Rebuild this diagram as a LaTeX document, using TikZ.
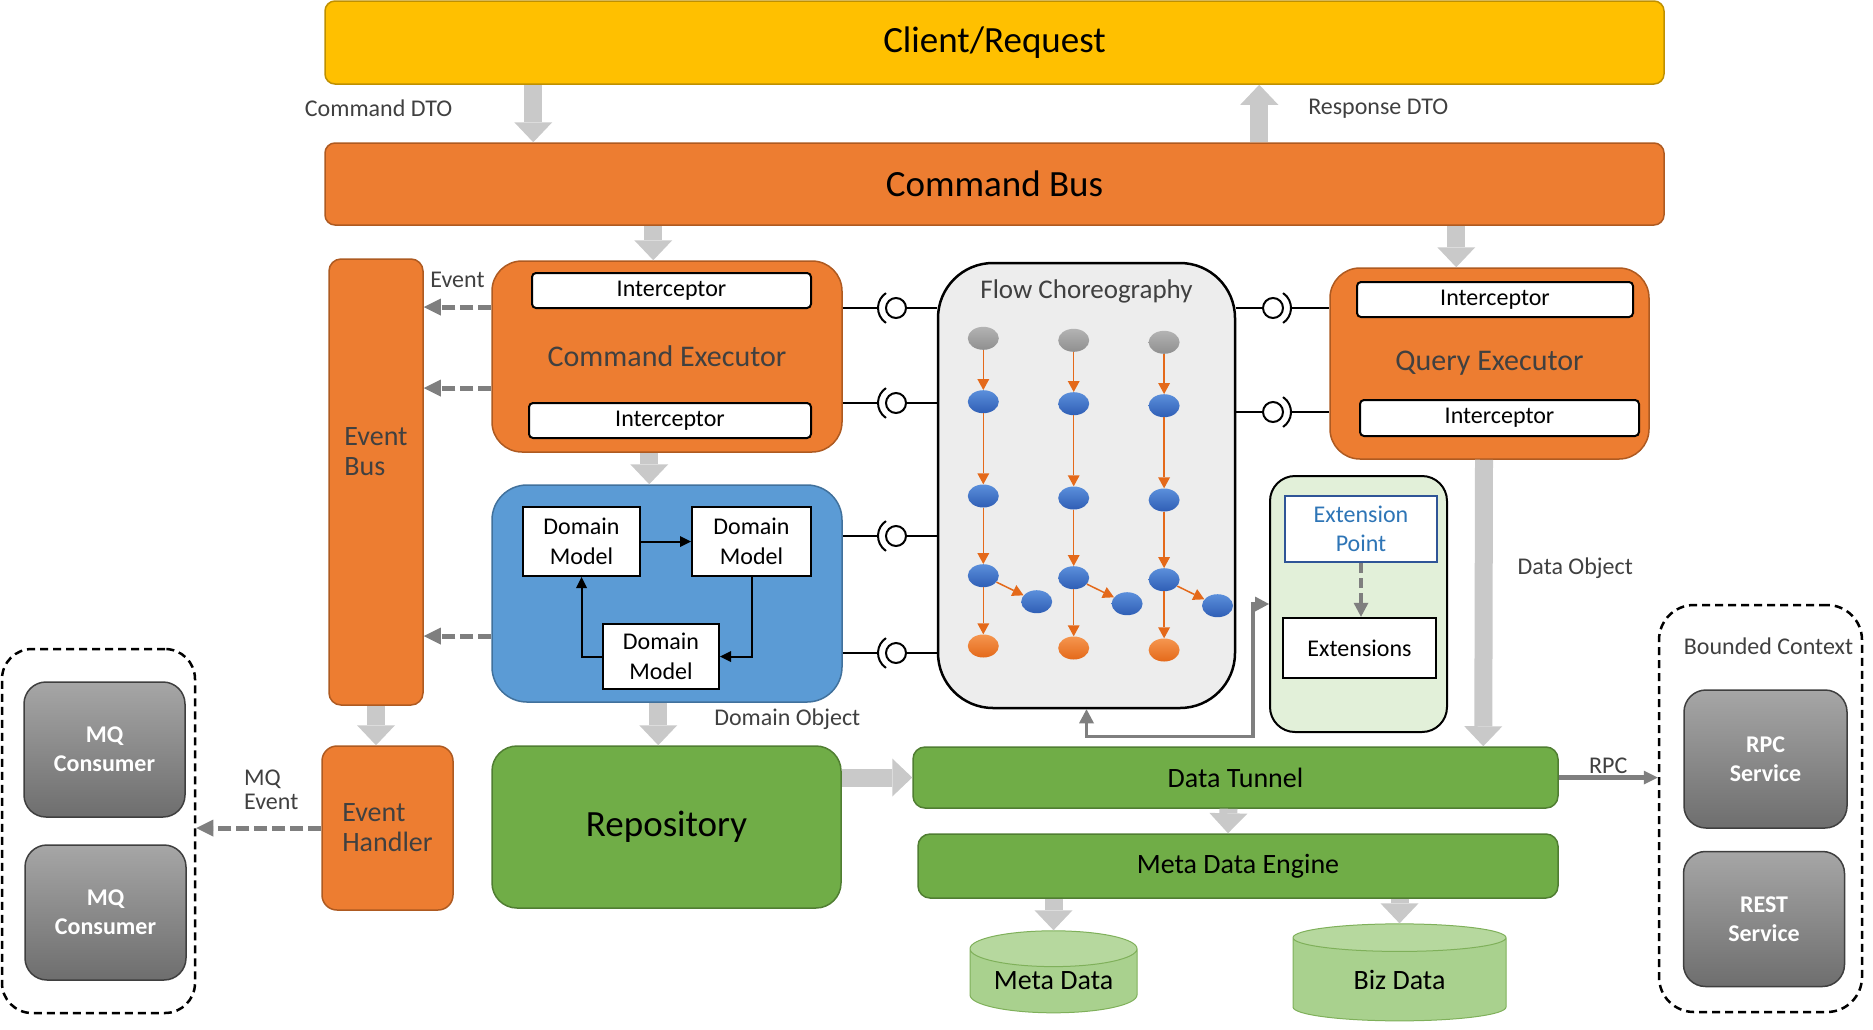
\documentclass[tikz,border=0pt]{standalone}
\usepackage{fontspec}
\setmainfont{Carlito}
\usetikzlibrary{arrows.meta, positioning, shapes.geometric}

\definecolor{clientfill}{HTML}{FFC000}
\definecolor{clientline}{HTML}{BF9000}
\definecolor{orangefill}{HTML}{ED7D31}
\definecolor{orangeline}{HTML}{AE5A21}
\definecolor{bluefill}{HTML}{5B9BD5}
\definecolor{blueline}{HTML}{41719C}
\definecolor{greenfill}{HTML}{70AD47}
\definecolor{greenline}{HTML}{507E32}
\definecolor{lightgreen}{HTML}{E2F0D9}
\definecolor{dbfill}{HTML}{A9D18E}
\definecolor{dbtop}{HTML}{B6D89E}
\definecolor{dbline}{HTML}{7FB05A}
\definecolor{flowfill}{HTML}{EDEDED}
\definecolor{txtgray}{HTML}{404040}
\definecolor{blockgray}{HTML}{C9C9C9}
\definecolor{dashgray}{HTML}{7F7F7F}
\definecolor{extblue}{HTML}{2E75B6}
\definecolor{extline}{HTML}{2F5597}
\definecolor{graytop}{HTML}{A6A6A6}
\definecolor{graybottom}{HTML}{6E6E6E}
\definecolor{darkline}{HTML}{3F3F3F}
\definecolor{dotgraytop}{HTML}{B3B3B3}
\definecolor{dotgraybottom}{HTML}{8F8F8F}
\definecolor{dotbluetop}{HTML}{5B8FDB}
\definecolor{dotbluebottom}{HTML}{2F5EB5}
\definecolor{dotorangetop}{HTML}{F5964F}
\definecolor{dotorangebottom}{HTML}{E4691A}

\newcommand{\fsz}[2]{\fontsize{#1}{#2}\selectfont}

\begin{document}
\begin{tikzpicture}[x=1pt, y=-1pt,
    orangebox/.style={draw=orangeline, fill=orangefill, line width=1.5pt},
    greenbox/.style={draw=greenline, fill=greenfill, line width=1.5pt},
    outerbox/.style={draw, line width=2.5pt, dash pattern=on 8pt off 5pt, rounded corners=30pt},
    interceptor/.style={draw, fill=white, line width=2pt, rounded corners=4pt, minimum height=35pt, inner sep=0pt, font=\fsz{24}{29}},
    domainmodel/.style={draw, fill=white, line width=2pt, align=center, inner sep=0pt, font=\fsz{24}{30}},
    graybox/.style={draw=darkline, top color=graytop, bottom color=graybottom, line width=1.5pt, rounded corners=22pt, text=white, align=center, font=\bfseries\fsz{24}{29}},
    database/.style={cylinder, shape border rotate=90, aspect=0.3, draw=dbline, line width=1pt, cylinder uses custom fill, cylinder body fill=dbfill, cylinder end fill=dbtop, inner sep=0pt, font=\fsz{28}{34}},
    flowdot/.style={ellipse, minimum width=31pt, minimum height=23pt, inner sep=0pt},
    lollipop/.style={circle, draw, fill=white, line width=2pt, minimum size=20pt, inner sep=0pt},
    lbl/.style={text=txtgray, font=\fsz{24}{24}, inner sep=0pt},
    blockarrow/.style={draw=blockgray, line width=18pt, arrows={-Triangle[length=20pt, width=38pt, line width=0pt]}},
    dasharrow/.style={draw=dashgray, line width=5pt, dash pattern=on 13pt off 5pt, arrows={-Triangle[length=17pt, width=17pt, line width=0pt]}},
    flowarrow/.style={draw=dotorangebottom, line width=1.5pt, arrows={-Triangle[length=11pt, width=12pt, line width=0pt]}},
    modelarrow/.style={draw=black, line width=2pt, arrows={-Triangle[length=11pt, width=11pt, line width=0pt]}},
    rpcarrow/.style={draw=dashgray, line width=4.5pt, arrows={-Triangle[length=14pt, width=14pt, line width=0pt]}},
    grayconn/.style={draw=dashgray, line width=3.5pt}]

    \useasboundingbox (0,0) rectangle (1873,1029);

    % Nodes
    \node[draw=clientline, fill=clientfill, line width=1.5pt, rounded corners=10pt, minimum width=1339pt, minimum height=83pt, font=\fsz{37}{44}] (client) at (994.5,42.5) {Client/Request};
    \node[orangebox, rounded corners=10pt, minimum width=1339pt, minimum height=82pt, font=\fsz{37}{44}] (command bus) at (994.5,184) {Command Bus};

    \node[orangebox, rounded corners=12pt, minimum width=94pt, minimum height=446pt,
          label={[text=txtgray, align=left, font=\fsz{28}{30}, yshift=30pt]center:{Event\\Bus}}] (event bus) at (376,482) {};
    \node[orangebox, rounded corners=15pt, minimum width=131pt, minimum height=164pt, text=txtgray, align=left, font=\fsz{28}{30}] (event handler) at (387.5,828) {Event\\Handler};

    \node[orangebox, rounded corners=30pt, minimum width=350pt, minimum height=191pt, text=txtgray, font=\fsz{30}{36}] (cmd exec) at (667,356.5) {Command Executor};
    \node[interceptor, minimum width=279pt] (cmd icpt top) at (671.5,290.5) {Interceptor};
    \node[interceptor, minimum width=282pt] (cmd icpt bottom) at (670,420.5) {Interceptor};

    \node[draw=blueline, fill=bluefill, line width=1.5pt, rounded corners=35pt, minimum width=350pt, minimum height=217pt] (domain) at (667,593.5) {};
    \node[domainmodel, minimum width=117pt, minimum height=69pt] (model a) at (581.5,541.5) {Domain\\Model};
    \node[domainmodel, minimum width=119pt, minimum height=69pt] (model b) at (751.5,541.5) {Domain\\Model};
    \node[domainmodel, minimum width=116pt, minimum height=65pt] (model c) at (661,656.5) {Domain\\Model};

    \node[greenbox, rounded corners=25pt, minimum width=349pt, minimum height=162pt, font=\fsz{37}{44}] (repository) at (666.5,827) {Repository};

    \node[outerbox, minimum width=193pt, minimum height=364pt] (mq box) at (98.5,831) {};
    \node[graybox, minimum width=161pt, minimum height=135pt] (mq consumer a) at (104.5,749.5) {MQ\\Consumer};
    \node[graybox, minimum width=161pt, minimum height=135pt] (mq consumer b) at (105.5,912.5) {MQ\\Consumer};

    \node[draw, fill=flowfill, line width=2.5pt, rounded corners=55pt, minimum width=297pt, minimum height=445pt,
          label={[anchor=center, yshift=-30pt, text=txtgray, font=\fsz{27}{32}]north:Flow Choreography}] (flow) at (1086.5,485.5) {};

    \node[orangebox, rounded corners=30pt, minimum width=319pt, minimum height=191pt, text=txtgray, font=\fsz{30}{36}] (query exec) at (1489.5,363.5) {Query Executor};
    \node[interceptor, minimum width=276pt] (query icpt top) at (1495,299.5) {Interceptor};
    \node[interceptor, minimum width=279pt, minimum height=36pt] (query icpt bottom) at (1499.5,418) {Interceptor};

    \node[draw, fill=lightgreen, line width=2pt, rounded corners=25pt, minimum width=177pt, minimum height=256pt] (ext box) at (1358.5,604) {};
    \node[draw=extline, fill=white, line width=2pt, text=extblue, align=center, minimum width=152pt, minimum height=66pt, inner sep=0pt, font=\fsz{24}{29}] (ext point) at (1361,529) {Extension\\Point};
    \node[draw, fill=white, line width=2.5pt, minimum width=153pt, minimum height=60pt, font=\fsz{24}{29}] (extensions) at (1359.5,648) {Extensions};

    \node[greenbox, rounded corners=12pt, minimum width=645pt, minimum height=61pt, font=\fsz{28}{34}] (data tunnel) at (1235.5,777.5) {Data Tunnel};
    \node[greenbox, rounded corners=12pt, minimum width=640pt, minimum height=64pt, font=\fsz{28}{34}] (meta engine) at (1238,866) {Meta Data Engine};
    \node[database, minimum width=167pt, minimum height=82pt] (meta data) at (1053.5,981) {Meta Data};
    \node[database, minimum width=213pt, minimum height=97pt] (biz data) at (1399.5,979.5) {Biz Data};

    \node[outerbox, rounded corners=35pt, minimum width=203pt, minimum height=407pt,
          label={[anchor=center, xshift=8pt, yshift=-42pt, text=txtgray, font=\fsz{24}{29}]north:Bounded Context}] (bounded) at (1760.5,808.5) {};
    \node[graybox, minimum width=163pt, minimum height=138pt] (rpc service) at (1765.5,759) {RPC\\Service};
    \node[graybox, minimum width=161pt, minimum height=135pt] (rest service) at (1764,919) {REST\\Service};

    % Flow choreography
    \foreach \c in {0,1,2} {
        \pgfmathsetmacro{\fx}{983.3+90.4*\c}
        \pgfmathsetmacro{\fy}{2*\c}
        \node[flowdot, top color=dotgraytop, bottom color=dotgraybottom] (start\c) at (\fx,338.3+\fy) {};
        \node[flowdot, top color=dotbluetop, bottom color=dotbluebottom] (blue a\c) at (\fx,401.7+\fy) {};
        \node[flowdot, top color=dotbluetop, bottom color=dotbluebottom] (blue b\c) at (\fx,496+\fy) {};
        \node[flowdot, top color=dotbluetop, bottom color=dotbluebottom] (blue c\c) at (\fx,575.7+\fy) {};
        \node[flowdot, top color=dotbluetop, bottom color=dotbluebottom] (branch\c) at (\fx+53.4,601.7+\fy) {};
        \node[flowdot, top color=dotorangetop, bottom color=dotorangebottom] (end\c) at (\fx,646+\fy) {};
        \draw[flowarrow] (start\c) -- (blue a\c);
        \draw[flowarrow] (blue a\c) -- (blue b\c);
        \draw[flowarrow] (blue b\c) -- (blue c\c);
        \draw[flowarrow] (blue c\c) -- (end\c);
        \draw[flowarrow] (blue c\c) -- (branch\c);
    }

    % Interfaces
    \foreach \y/\src [count=\i] in {308/cmd exec,403/cmd exec,536/domain,653/domain} {
        \node[lollipop] (left ball\i) at (896,\y) {};
        \draw[line width=2pt] (left ball\i -| \src.east) -- ([xshift=-18pt]left ball\i.center);
        \draw[line width=2pt] (left ball\i.center) ++(124:18) arc (124:236:18);
        \draw[line width=2pt] (left ball\i) -- (left ball\i -| flow.west);
    }
    \foreach \y [count=\i] in {308,412} {
        \node[lollipop] (right ball\i) at (1273,\y) {};
        \draw[line width=2pt] (flow.east |- right ball\i) -- (right ball\i);
        \draw[line width=2pt] (right ball\i.center) ++(-56:18) arc (-56:56:18);
        \draw[line width=2pt] ([xshift=18pt]right ball\i.center) -- (right ball\i -| query exec.west);
    }

    % Connections
    \draw[blockarrow] ([xshift=209pt]client.south west) -- node[lbl, pos=0.41, left=72pt] {Command DTO} ([xshift=209pt]command bus.north west);
    \draw[blockarrow] ([xshift=935pt]command bus.north west) -- node[lbl, pos=0.59, right=40pt] {Response DTO} ([xshift=935pt]client.south west);
    \draw[blockarrow] ([xshift=329pt]command bus.south west) -- ([xshift=162pt]cmd exec.north west);
    \draw[blockarrow] ([xshift=1132pt]command bus.south west) -- ([xshift=127pt]query exec.north west);
    \draw[blockarrow] ([xshift=158pt]cmd exec.south west) -- ([xshift=158pt]domain.north west);
    \draw[blockarrow] ([xshift=167pt]domain.south west) -- node[lbl, pos=0.38, right=47pt] {Domain Object} ([xshift=167pt]repository.north west);
    \draw[blockarrow] (event bus.south) -- (event bus.south |- event handler.north);
    \draw[blockarrow] (repository.east |- data tunnel.west) -- (data tunnel.west);
    \draw[blockarrow] ([xshift=-5.5pt]query exec.south) -- node[lbl, pos=0.38, right=25pt] {Data Object} ([xshift=571pt]data tunnel.north west);
    \draw[blockarrow] ([xshift=-7pt]data tunnel.south) -- ([xshift=-10pt]meta engine.north);
    \draw[blockarrow] (meta data.north |- meta engine.south) -- (meta data.north);
    \draw[blockarrow] (biz data.north |- meta engine.south) -- (biz data.north);

    \coordinate (event out a) at ([yshift=49.5pt]cmd exec.west);
    \coordinate (event out b) at ([yshift=-31.5pt]cmd exec.west);
    \coordinate (event out c) at ([yshift=-42.5pt]domain.west);
    \draw[dasharrow] (event out a) -- node[lbl, above=17pt] {Event} (event out a -| event bus.east);
    \draw[dasharrow] (event out b) -- (event out b -| event bus.east);
    \draw[dasharrow] (event out c) -- (event out c -| event bus.east);
    \draw[dasharrow] (event handler.west) -- node[lbl, pos=0.4, above=16pt, align=left] {MQ\\Event} (event handler.west -| mq box.east);

    \draw[modelarrow] (model a) -- (model b);
    \draw[modelarrow] (model b.south) |- (model c.east);
    \draw[modelarrow] (model c.west) -| (model a.south);

    \draw[dasharrow, line width=4pt, dash pattern=on 10pt off 5pt, arrows={-Triangle[length=14pt, width=15pt, line width=0pt]}] (ext point.south) -- (ext point.south |- extensions.north);
    \draw[grayconn, arrows={Triangle[length=14pt, width=15pt, line width=0pt]-Triangle[length=14pt, width=15pt, line width=0pt]}] (flow.south) -- ++(0,27) -| ([xshift=-16pt]ext box.west) -- (ext box.west);

    \draw[rpcarrow] (data tunnel.east) -- node[lbl, above=2pt] {RPC} (data tunnel.east -| bounded.west);
\end{tikzpicture}
\end{document}
